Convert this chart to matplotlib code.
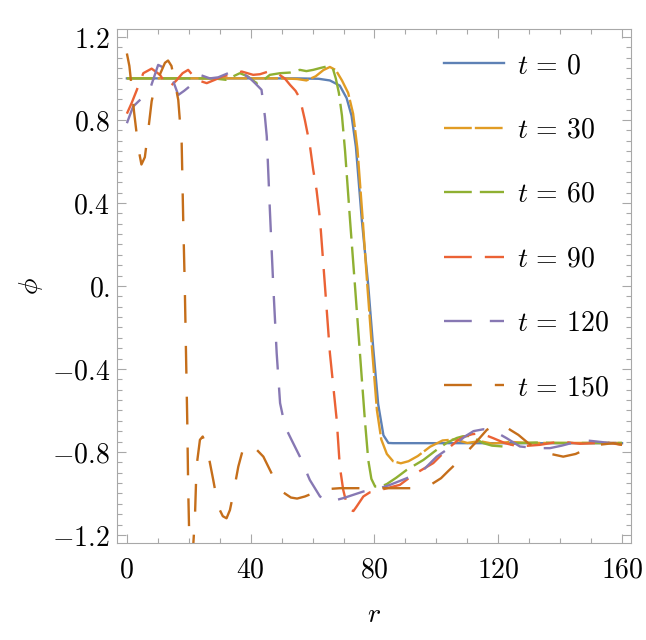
import matplotlib
matplotlib.use('Agg')
import matplotlib.pyplot as plt
from matplotlib.ticker import MultipleLocator

plt.rcParams['mathtext.fontset'] = 'cm'
plt.rcParams['lines.scale_dashes'] = False

# t = 0
r0 = [0, 20, 40, 55, 62, 65.6, 68.8, 71.0, 72.6, 74.0, 75.9, 78.0, 79.6, 81.2, 82.9, 84.5, 86, 100, 130, 160]
p0 = [1.0, 1.0, 1.0, 1.0, 0.998, 0.99, 0.965, 0.905, 0.82, 0.67, 0.32, 0.0, -0.30, -0.57, -0.72, -0.757, -0.758, -0.758, -0.758, -0.758]

# t = 30
r30 = [0, 20, 40, 50, 55, 58, 61, 63.5, 65.6, 67.5, 69.5, 71.5, 73.1, 74.5, 76.2, 77.7, 79.3, 80.8, 82.2, 84, 86, 88.5,
       91, 94, 98, 102, 106, 110, 114, 118, 124, 130, 145, 160]
p30 = [1.0, 1.0, 1.0, 1.0, 0.997, 0.99, 1.01, 1.04, 1.055, 1.04, 0.99, 0.93, 0.83, 0.66, 0.32, 0.0, -0.32, -0.6, -0.74,
       -0.81, -0.845, -0.855, -0.845, -0.82, -0.775, -0.745, -0.74, -0.757, -0.748, -0.76, -0.752, -0.757, -0.757, -0.757]

# t = 60
r60 = [0, 20, 28, 32, 36.5, 39, 41.9, 44, 46.2, 49.5, 52.7, 55.9, 58, 60.2, 62.5, 64.5, 66.5, 67.5, 68.5, 69.5, 70.5,
       72.1, 73.7, 75.3, 76.9, 78.0, 79.0, 80.2, 82, 84, 87, 90.4, 95.8, 100.1, 103.5, 106.6, 108.5, 111, 113, 115.2,
       118, 121.6, 126, 132, 140, 150, 160]
p60 = [1.0, 1.0, 1.0, 0.993, 1.025, 1.01, 0.977, 0.99, 1.017, 1.025, 1.028, 1.041, 1.035, 1.041, 1.05, 1.057, 1.05, 1.0,
       0.93, 0.82, 0.65, 0.318, 0.0, -0.324, -0.646, -0.84, -0.93, -0.967, -0.968, -0.955, -0.925, -0.887, -0.839,
       -0.79, -0.755, -0.733, -0.725, -0.723, -0.74, -0.758, -0.77, -0.774, -0.758, -0.755, -0.757, -0.757, -0.757]

# t = 90
r90 = [0, 1.5, 3.1, 5.3, 8.0, 10.7, 12.5, 13.9, 16, 18, 19.8, 22.5, 25.8, 28.4, 31, 33.3, 37.1, 40.8, 43, 45.7, 49,
       51, 52.7, 54.5, 55.9, 57.5, 59.1, 60.2, 61.3, 62.4, 64.0, 65.6, 67.8, 68.8, 69.9, 71, 72.1, 73.2, 74.2, 76.4,
       78.5, 80.2, 84, 88.2, 92.5, 99, 103.3, 107.1, 109.2, 111.5, 114.1, 116, 118.4, 122.2, 126.5, 133.5, 140, 146.4,
       155, 160]
p90 = [0.83, 0.88, 0.94, 1.025, 1.047, 1.017, 0.975, 0.96, 0.99, 1.025, 1.041, 0.993, 0.977, 0.993, 1.01, 1.017, 1.033,
       1.017, 1.02, 1.033, 1.02, 1.0, 0.969, 0.94, 0.904, 0.80, 0.68, 0.56, 0.46, 0.32, 0.0, -0.324, -0.646, -0.87,
       -0.983, -1.05, -1.08, -1.085, -1.064, -1.015, -0.995, -0.991, -0.975, -0.959, -0.911, -0.854, -0.79, -0.742,
       -0.726, -0.715, -0.71, -0.72, -0.734, -0.758, -0.774, -0.766, -0.75, -0.761, -0.755, -0.766]

# t = 120
r120 = [0, 2, 4.5, 7.4, 10.1, 13.4, 15, 16.6, 18.5, 20.9, 23.6, 26.8, 29.5, 32.7, 36.5, 39.8, 41.4, 43.5, 44.6, 45.2,
        46.2, 47.3, 48.4, 49.5, 51.1, 53.2, 55.9, 59.1, 62.4, 65.6, 69.9, 76.4, 80.7, 85, 90.4, 95.8, 100.1, 103.3,
        106.6, 109.2, 112, 115.2, 118.9, 122.7, 127, 132.4, 136.7, 140.5, 144.3, 148.6, 151.8, 156, 160]
p120 = [0.784, 0.864, 0.90, 0.945, 1.065, 1.041, 0.985, 0.92, 0.94, 0.969, 1.017, 1.0, 1.005, 1.025, 1.033, 1.0, 0.977,
        0.945, 0.816, 0.72, 0.366, 0.0, -0.324, -0.565, -0.678, -0.742, -0.823, -0.935, -1.015, -1.04, -1.023, -0.991,
        -0.98, -0.959, -0.927, -0.887, -0.823, -0.79, -0.758, -0.726, -0.70, -0.691, -0.702, -0.734, -0.774, -0.782,
        -0.782, -0.77, -0.755, -0.745, -0.75, -0.757, -0.757]

# t = 150
r150 = [0, 0.8, 1.6, 2.3, 3.1, 4.0, 4.7, 5.8, 6.9, 8.0, 9.2, 10.7, 12.3, 13.3, 14.4, 15.5, 16.6, 17.1, 17.7, 18.2,
        18.7, 19.1, 19.5, 19.8, 20.1, 20.7, 21.4, 22.0, 22.5, 23.6, 24.5, 25.8, 27.9, 29.5, 31, 32.2, 33.3, 34.4, 36,
        37.6, 38.9, 41, 44.1, 47.8, 50, 53, 55, 57.5, 60, 63, 66, 68.8, 79.6, 94.2, 98, 101.5, 104, 107.6, 110.5, 113,
        116.3, 119.5, 122, 124, 126.5, 129.7, 133.5, 137, 141, 145, 149.1, 153, 157.2, 160]
p150 = [1.12, 1.06, 0.95, 0.84, 0.74, 0.64, 0.585, 0.62, 0.75, 0.89, 0.97, 1.02, 1.075, 1.086, 1.06, 0.98, 0.896, 0.80,
        0.688, 0.318, 0.0, -0.324, -0.646, -0.967, -1.176, -1.3, -1.26, -1.11, -0.871, -0.742, -0.726, -0.774, -0.935,
        -1.064, -1.11, -1.12, -1.08, -1.0, -0.871, -0.782, -0.758, -0.775, -0.823, -0.935, -0.99, -1.02, -1.025,
        -1.015, -1.0, -0.985, -0.978, -0.975, -0.975, -0.975, -0.96, -0.927, -0.89, -0.839, -0.79, -0.75, -0.694,
        -0.665, -0.675, -0.695, -0.718, -0.758, -0.79, -0.81, -0.823, -0.81, -0.782, -0.765, -0.758, -0.766]

series = [(r0, p0, 0), (r30, p30, 30), (r60, p60, 60), (r90, p90, 90), (r120, p120, 120), (r150, p150, 150)]
colors = ['#5E81B5', '#E19C24', '#8FB032', '#EB6235', '#8778B3', '#C56E1A']
dashes = [None, (20, 2.2), (20, 5.8), (20, 9.4), (20, 13), (20, 16.6)]

xticks = [0, 40, 80, 120, 160]
yticks = [-1.2, -0.8, -0.4, 0.0, 0.4, 0.8, 1.2]
ylabels = ['$-1.2$', '$-0.8$', '$-0.4$', '$0.$', '$0.4$', '$0.8$', '$1.2$']

fig = plt.figure(figsize=(6.46, 6.40), dpi=100)
ax = fig.add_axes([0.1811, 0.1516, 0.7957, 0.8031])

for (r, p, t), c, d in zip(series, colors, dashes):
    line, = ax.plot(r, p, color=c, lw=1.7, label=f'$t\\,=\\,{t}$')
    if d is not None:
        line.set_dashes(d)

ax.set_xlim(-3.2, 162.9)
ax.set_ylim(-1.239, 1.238)

ax.set_xticks(xticks, labels=[f'${v}$' for v in xticks])
ax.set_yticks(yticks, labels=ylabels)
ax.xaxis.set_minor_locator(MultipleLocator(10))
ax.yaxis.set_minor_locator(MultipleLocator(0.05))

gray = '#a8a8a8'
for s in ax.spines.values():
    s.set_color(gray)
ax.tick_params(which='both', direction='in', top=True, right=True, color=gray, labelsize=20)
ax.tick_params(which='major', length=6.5, width=0.8)
ax.tick_params(which='minor', length=3.5, width=0.8)
ax.tick_params(axis='x', pad=9)
ax.tick_params(axis='y', pad=5)

ax.set_xlabel('$r$', fontsize=20, labelpad=12)
ax.set_ylabel('$\\phi$', fontsize=20, labelpad=5)

ax.legend(loc='upper right', frameon=False, fontsize=20, handlelength=2.16, handletextpad=0.47,
          labelspacing=1.31, borderaxespad=0.4)

fig.savefig('out.png', dpi=100)
